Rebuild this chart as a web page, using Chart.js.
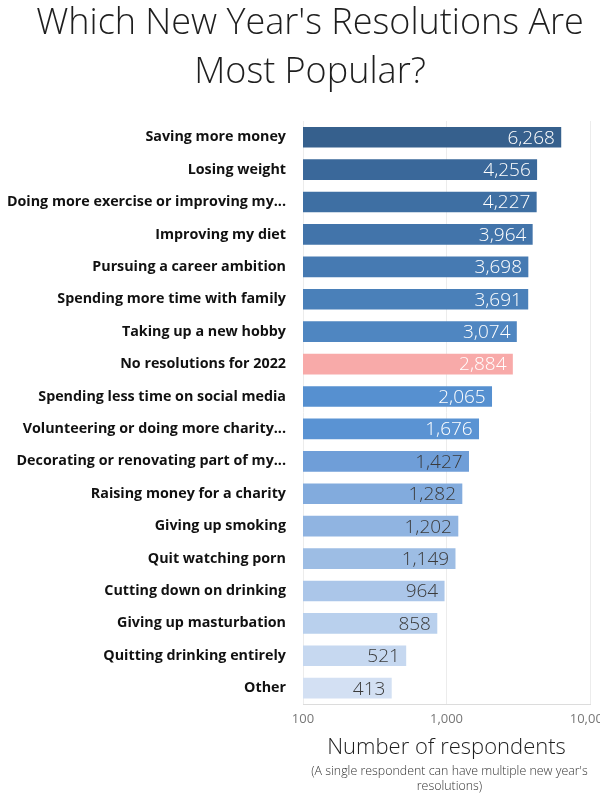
<!DOCTYPE html>
<html>
<head>
<meta charset="utf-8">
<script src="https://cdn.jsdelivr.net/npm/chart.js@4.4.1/dist/chart.umd.min.js"></script>
<style>
  html, body { margin: 0; padding: 0; background: #fff; }
  #wrap { width: 600px; height: 797px; }
</style>
</head>
<body>
<div id="wrap"><canvas id="myChart" width="600" height="797"></canvas></div>
<script>
// categories, top to bottom
var resolutions = [
  "Saving more money",
  "Losing weight",
  "Doing more exercise or improving my...",
  "Improving my diet",
  "Pursuing a career ambition",
  "Spending more time with family",
  "Taking up a new hobby",
  "No resolutions for 2022",
  "Spending less time on social media",
  "Volunteering or doing more charity...",
  "Decorating or renovating part of my...",
  "Raising money for a charity",
  "Giving up smoking",
  "Quit watching porn",
  "Cutting down on drinking",
  "Giving up masturbation",
  "Quitting drinking entirely",
  "Other"
];
// number of respondents
var respondents = [6268, 4256, 4227, 3964, 3698, 3691, 3074, 2884, 2065, 1676, 1427, 1282, 1202, 1149, 964, 858, 521, 413];
// log axis ticks
var axisTicks = [100, 1000, 10000];

var titleLines = ["Which New Year's Resolutions Are", "Most Popular?"];

var barColors = [
  "#36608d", "#3a689a", "#3e6fa3", "#4274aa", "#467ab2", "#4a80b9", "#4f86c1",
  "#f8aaa9",
  "#5690d0", "#5a93d3", "#6f9ed8", "#82abdd", "#90b4e1", "#9dbde4",
  "#abc6e9", "#b9d0ed", "#c6d8f0", "#d3e0f3"
];
var labelColors = barColors.map(function (c, i) { return i < 10 ? "#ffffff" : "#3a3a3a"; });

var ctx = document.getElementById("myChart");

// title, values inside the bars and the note under the axis title
var extraText = {
  id: "extraText",
  afterDatasetsDraw: function (chart) {
    var c = chart.ctx;
    var meta = chart.getDatasetMeta(0);
    c.save();
    c.font = "300 19px 'Open Sans'";
    c.textAlign = "right";
    c.textBaseline = "middle";
    meta.data.forEach(function (bar, i) {
      c.fillStyle = labelColors[i];
      c.fillText(respondents[i].toLocaleString("en-US"), bar.x - 6, bar.y + 1);
    });

    c.textAlign = "center";
    c.fillStyle = "#1e1e1e";
    c.font = "300 36px 'Open Sans'";
    c.fillText(titleLines[0], 310, 24);
    c.fillText(titleLines[1], 310, 73);

    var area = chart.chartArea;
    var cx = (area.left + area.right) / 2;
    c.fillStyle = "#333";
    c.font = "300 12.4px 'Open Sans'";
    c.fillText("(A single respondent can have multiple new year's", cx + 3, 771);
    c.fillText("resolutions)", cx + 3, 786);
    c.restore();
  }
};

var myChart = new Chart(ctx, {
  type: "bar",
  data: {
    labels: resolutions,
    datasets: [{
      data: respondents,
      backgroundColor: barColors,
      barThickness: 20,
      borderWidth: 0
    }]
  },
  options: {
    indexAxis: "y",
    responsive: false,
    animation: false,
    layout: { padding: { top: 121, right: 10, bottom: 38, left: 0 } },
    plugins: {
      legend: { display: false },
      tooltip: { enabled: false },
      title: { display: false }
    },
    scales: {
      x: {
        type: "logarithmic",
        min: 100,
        max: 10000,
        afterBuildTicks: function (scale) {
          scale.ticks = axisTicks.map(function (v) { return { value: v }; });
        },
        afterFit: function (scale) {
          scale.paddingLeft = 0;
          scale.paddingRight = 0;
        },
        grid: { color: "#ececec", drawTicks: false },
        border: { color: "#dcdcdc" },
        ticks: {
          padding: 7,
          color: "#777",
          font: { family: "'Open Sans'", size: 13 },
          maxRotation: 0,
          callback: function (v) { return Number(v).toLocaleString("en-US"); }
        },
        title: {
          display: true,
          text: "Number of respondents",
          color: "#1e1e1e",
          font: { family: "'Open Sans'", size: 22, weight: "300", lineHeight: 1.0 },
          padding: { top: 3, bottom: 0 }
        }
      },
      y: {
        afterFit: function (scale) { scale.width = 303; },
        grid: { display: false, drawTicks: false },
        border: { display: false },
        ticks: {
          autoSkip: false,
          padding: 17,
          color: "#111",
          font: { family: "'Open Sans'", size: 14.3, weight: "bold" }
        }
      }
    }
  },
  plugins: [extraText]
});
</script>
</body>
</html>
